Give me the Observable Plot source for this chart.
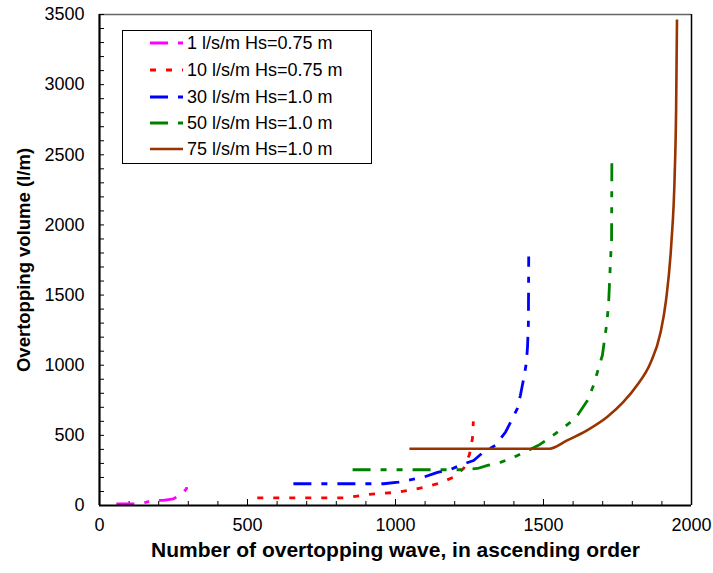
<!DOCTYPE html>
<html>
<head>
<meta charset="utf-8">
<script src="https://cdn.jsdelivr.net/npm/d3@7"></script>
<script src="https://cdn.jsdelivr.net/npm/@observablehq/plot@0.6"></script>
<style>
  body { margin: 0; background: #fff; }
  #chart { position: relative; width: 713px; height: 573px; }
</style>
</head>
<body>
<div id="chart"></div>
<script>
// Series labels and styles
const seriesNames = ["1 l/s/m Hs=0.75 m", "10 l/s/m Hs=0.75 m", "30 l/s/m Hs=1.0 m", "50 l/s/m Hs=1.0 m", "75 l/s/m Hs=1.0 m"];
const seriesColors = ["#FF00FF", "#FF0000", "#0000FF", "#008000", "#993300"];
const seriesDash = ["18,10,5,10", "6,10", "18,10,6,10", "18,10,6,10,6,10", null];

// Data: wave number (x) and overtopping volume (y)
const s1x = [57, 122, 150, 165, 190, 195, 215, 250, 263, 280, 284, 294, 297];
const s1y = [12, 12, 19, 28, 30, 36, 36, 48, 64, 86, 95, 121, 202];

const s10x = [533, 830, 855, 905, 953, 1010, 1061, 1108, 1149, 1196, 1230, 1250, 1260, 1263];
const s10y = [55, 55, 62, 78, 86, 95, 114, 136, 159, 202, 264, 364, 479, 600];

const s30x = [655, 960, 1010, 1057, 1095, 1142, 1186, 1226, 1264, 1297, 1338, 1372, 1389, 1412, 1422, 1432, 1442, 1446, 1449, 1450];
const s30y = [155, 155, 166, 186, 202, 236, 257, 293, 321, 381, 429, 524, 595, 693, 786, 893, 1014, 1131, 1300, 1775];

const s50x = [855, 1220, 1277, 1311, 1357, 1405, 1449, 1483, 1524, 1564, 1608, 1649, 1669, 1686, 1699, 1706, 1714, 1720, 1726, 1730, 1731];
const s50y = [255, 255, 264, 286, 309, 350, 393, 429, 486, 550, 621, 750, 857, 979, 1071, 1179, 1300, 1443, 1729, 1900, 2500];

const s75x = [1047, 1520, 1580, 1647, 1715, 1770, 1816, 1861, 1895, 1914, 1932, 1943, 1948, 1951];
const s75y = [405, 405, 464, 536, 631, 738, 857, 1014, 1229, 1464, 1871, 2343, 2821, 3464];

const xTicks = [0, 500, 1000, 1500, 2000];
const yTicks = [0, 500, 1000, 1500, 2000, 2500, 3000, 3500];
const xMinor = d3.range(0, 2001, 100);
const yMinor = d3.range(0, 3501, 100);

const xTitle = "Number of overtopping wave, in ascending order";
const yTitle = "Overtopping volume (l/m)";

const allX = [s1x, s10x, s30x, s50x, s75x];
const allY = [s1y, s10y, s30y, s50y, s75y];
const series = allX.map((xs, i) => xs.map((x, j) => ({x, y: allY[i][j], s: i})));

const font = "'Liberation Sans', Arial, sans-serif";

const lineMarks = series.map((data, i) => Plot.line(data, {
  x: "x", y: "y",
  stroke: seriesColors[i],
  strokeWidth: i === 4 ? 2.6 : 2.8,
  strokeDasharray: seriesDash[i] || undefined,
  strokeLinecap: "butt",
  curve: i === 4 ? "monotone-x" : "linear"
}));

const plot = Plot.plot({
  width: 713,
  height: 573,
  marginLeft: 99,
  marginRight: 22,
  marginTop: 14,
  marginBottom: 68,
  style: { fontFamily: font, fontSize: "18px", color: "#000", background: "#fff" },
  x: { domain: [0, 2000] },
  y: { domain: [0, 3500] },
  marks: [
    // frame top and right
    Plot.ruleY([3500], { stroke: "#666", strokeWidth: 1.5 }),
    Plot.ruleX([2000], { stroke: "#000", strokeWidth: 1.5 }),
    // inside tick marks
    Plot.axisX({ ticks: xMinor, tickSize: 4, text: null, dy: -4, strokeWidth: 1, label: null }),
    Plot.axisX({ ticks: xTicks, tickSize: 6, text: null, dy: -6, strokeWidth: 1, label: null }),
    Plot.axisY({ ticks: yMinor, tickSize: 5, text: null, dx: 5, strokeWidth: 1, label: null }),
    // tick labels
    Plot.axisX({ ticks: xTicks, tickSize: 0, tickPadding: 13, tickFormat: d => String(d), label: null, fontSize: 18 }),
    Plot.axisY({ ticks: yTicks, tickSize: 0, tickPadding: 15, tickFormat: d => String(d), label: null, fontSize: 18 }),
    // data lines
    ...lineMarks,
    // axis lines
    Plot.ruleX([0], { stroke: "#000", strokeWidth: 2.2 }),
    Plot.ruleY([0], { stroke: "#000", strokeWidth: 2.2 }),
    // axis titles
    Plot.text([xTitle], { text: d => d, frameAnchor: "bottom", dy: 51, fontWeight: "bold", fontSize: 21, fill: "#000" }),
    Plot.text([yTitle], { text: d => d, frameAnchor: "left", textAnchor: "middle", dx: -75, rotate: -90, fontWeight: "bold", fontSize: 18.5, fill: "#000" })
  ]
});

document.getElementById("chart").appendChild(plot);

// Legend drawn inside the plot area
const svg = d3.select(plot);
const lg = svg.append("g").attr("font-family", font).attr("font-size", 18).attr("text-anchor", "start");
lg.append("rect")
  .attr("x", 122.5).attr("y", 30.5).attr("width", 249).attr("height", 133)
  .attr("fill", "#fff").attr("stroke", "#000").attr("stroke-width", 1);
const rowY = [43, 70, 97, 123, 149];
seriesNames.forEach((name, i) => {
  lg.append("line")
    .attr("x1", 150).attr("x2", 183).attr("y1", rowY[i]).attr("y2", rowY[i])
    .attr("stroke", seriesColors[i])
    .attr("stroke-width", i === 4 ? 2.6 : 2.8)
    .attr("stroke-dasharray", seriesDash[i] || null);
  lg.append("text")
    .attr("x", 187).attr("y", rowY[i]).attr("dy", "0.36em")
    .attr("text-anchor", "start")
    .attr("fill", "#000")
    .text(name);
});
</script>
</body>
</html>
